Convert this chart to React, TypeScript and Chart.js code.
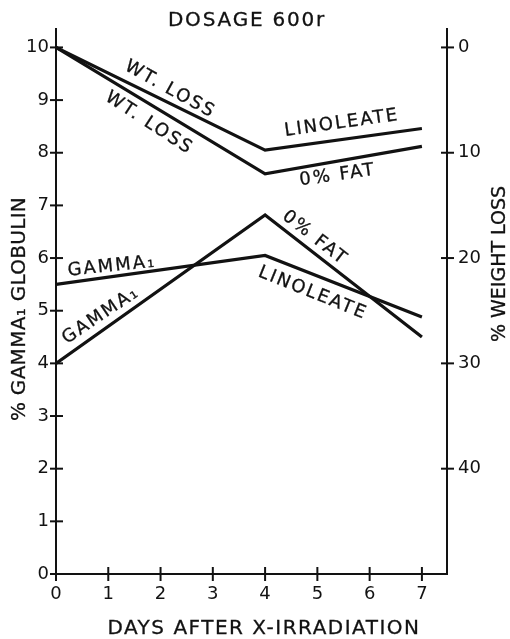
import React, { useEffect, useRef } from "react";
import { Chart, registerables } from "chart.js";

Chart.register(...registerables);

// Days after irradiation at which the groups were measured
const days = [0, 4, 7];

// % weight loss (right-hand axis, reversed)
const wtLossLinoleate = [0, 9.75, 7.7];
const wtLossFatFree = [0, 12, 9.4];

// % gamma-1 globulin (left-hand axis)
const gammaLinoleate = [5.5, 6.05, 4.88];
const gammaFatFree = [4.0, 6.82, 4.5];

// Tick values
const xTicks = [0, 1, 2, 3, 4, 5, 6, 7];
const gammaTicks = [0, 1, 2, 3, 4, 5, 6, 7, 8, 9, 10];
const weightTicks = [0, 10, 20, 30, 40];

// Text
const titleText = "DOSAGE 600r";
const xTitle = "DAYS AFTER X-IRRADIATION";
const leftTitle = "% GAMMA₁ GLOBULIN";
const rightTitle = "% WEIGHT LOSS";

// Curve labels, anchored in (day, gamma-axis) units
const labelText = ["WT. LOSS", "WT. LOSS", "LINOLEATE", "0% FAT", "GAMMA₁", "GAMMA₁", "0% FAT", "LINOLEATE"];
const labelDay = [2.18, 1.78, 5.47, 5.39, 1.07, 0.86, 4.95, 4.91];
const labelLevel = [9.2, 8.56, 8.56, 7.57, 5.84, 4.91, 6.38, 5.33];
const labelAngle = [29, 33, -8, -8, -6, -34, 38, 22];

const INK = "#121212";
const FONT = "'DejaVu Sans', sans-serif";

const pts = (xs: number[], ys: number[]) => xs.map((x, i) => ({ x, y: ys[i] }));

const decorations = {
  id: "decorations",
  afterDraw(chart: any) {
    const { ctx, scales, chartArea } = chart;
    const { x, y, y1 } = scales;
    ctx.save();
    ctx.strokeStyle = INK;
    ctx.lineWidth = 2;
    const seg = (a: number, b: number, c: number, d: number) => {
      ctx.beginPath();
      ctx.moveTo(a, b);
      ctx.lineTo(c, d);
      ctx.stroke();
    };
    // crossing tick marks
    for (const t of x.ticks) {
      const px = x.getPixelForValue(t.value);
      seg(px, chartArea.bottom - 7, px, chartArea.bottom + 7);
    }
    for (const t of y.ticks) {
      const py = y.getPixelForValue(t.value);
      seg(chartArea.left - 6, py, chartArea.left + 7, py);
    }
    for (const t of y1.ticks) {
      const py = y1.getPixelForValue(t.value);
      seg(chartArea.right - 6, py, chartArea.right + 7, py);
    }

    ctx.fillStyle = INK;
    ctx.textAlign = "center";
    ctx.textBaseline = "middle";
    const text = (s: string, px: number, py: number, deg: number, size: number, spacing: number) => {
      ctx.save();
      ctx.translate(px, py);
      ctx.rotate((deg * Math.PI) / 180);
      ctx.font = `${size}px ${FONT}`;
      (ctx as any).letterSpacing = `${spacing}px`;
      ctx.lineWidth = 0.3;
      ctx.fillText(s, 0, 0);
      ctx.strokeText(s, 0, 0);
      ctx.restore();
    };

    // titles
    text(titleText, 247, 21, 0, 20, 1.8);
    text(xTitle, 264, 629, 0, 20, 1.5);
    text(leftTitle, 20, 309, -90, 20, 0.3);
    text(rightTitle, 500, 264, -90, 19, 0);

    // curve labels
    labelText.forEach((s, i) => {
      text(s, x.getPixelForValue(labelDay[i]), y.getPixelForValue(labelLevel[i]), labelAngle[i], 18, 2);
    });
    ctx.restore();
  },
};

export default function App() {
  const ref = useRef<HTMLCanvasElement | null>(null);

  useEffect(() => {
    if (!ref.current) return;
    const line = (data: any[], axis: string) => ({
      data,
      yAxisID: axis,
      borderColor: INK,
      borderWidth: 3.2,
      pointRadius: 0,
      fill: false,
      tension: 0,
      borderJoinStyle: "miter" as const,
    });
    const tickFont = { family: FONT, size: 18 };
    const chart = new Chart(ref.current, {
      type: "line",
      data: {
        datasets: [
          line(pts(days, wtLossLinoleate), "y1"),
          line(pts(days, wtLossFatFree), "y1"),
          line(pts(days, gammaLinoleate), "y"),
          line(pts(days, gammaFatFree), "y"),
        ],
      },
      options: {
        animation: false,
        responsive: false,
        devicePixelRatio: 1,
        layout: { padding: { top: 29, left: 0, right: 0, bottom: 0 } },
        plugins: { legend: { display: false }, tooltip: { enabled: false }, title: { display: false } },
        scales: {
          x: {
            type: "linear",
            position: "bottom",
            min: 0,
            max: 7.48,
            grid: { display: true, drawOnChartArea: false, drawTicks: false },
            border: { display: true, color: INK, width: 2 },
            ticks: { color: INK, font: tickFont, padding: 10, autoSkip: false, maxRotation: 0 },
            afterBuildTicks: (s: any) => {
              s.ticks = xTicks.map((v) => ({ value: v }));
            },
            afterFit: (s: any) => {
              s.height = 65;
            },
          },
          y: {
            type: "linear",
            position: "left",
            min: 0,
            max: 10.35,
            grid: { display: true, drawOnChartArea: false, drawTicks: false },
            border: { display: true, color: INK, width: 2 },
            ticks: { color: INK, font: tickFont, padding: 7 },
            afterBuildTicks: (s: any) => {
              s.ticks = gammaTicks.map((v) => ({ value: v }));
            },
            afterFit: (s: any) => {
              s.width = 56;
            },
          },
          y1: {
            type: "linear",
            position: "right",
            reverse: true,
            min: -1.75,
            max: 50,
            grid: { display: true, drawOnChartArea: false, drawTicks: false },
            border: { display: true, color: INK, width: 2 },
            ticks: { color: INK, font: tickFont, padding: 11 },
            afterBuildTicks: (s: any) => {
              s.ticks = weightTicks.map((v) => ({ value: v }));
            },
            afterFit: (s: any) => {
              s.width = 63;
            },
          },
        },
      },
      plugins: [decorations],
    });
    return () => chart.destroy();
  }, []);

  return (
    <div style={{ position: "fixed", left: 0, top: 0, width: 510, height: 639, background: "#fff" }}>
      <canvas ref={ref} width={510} height={639} />
    </div>
  );
}
